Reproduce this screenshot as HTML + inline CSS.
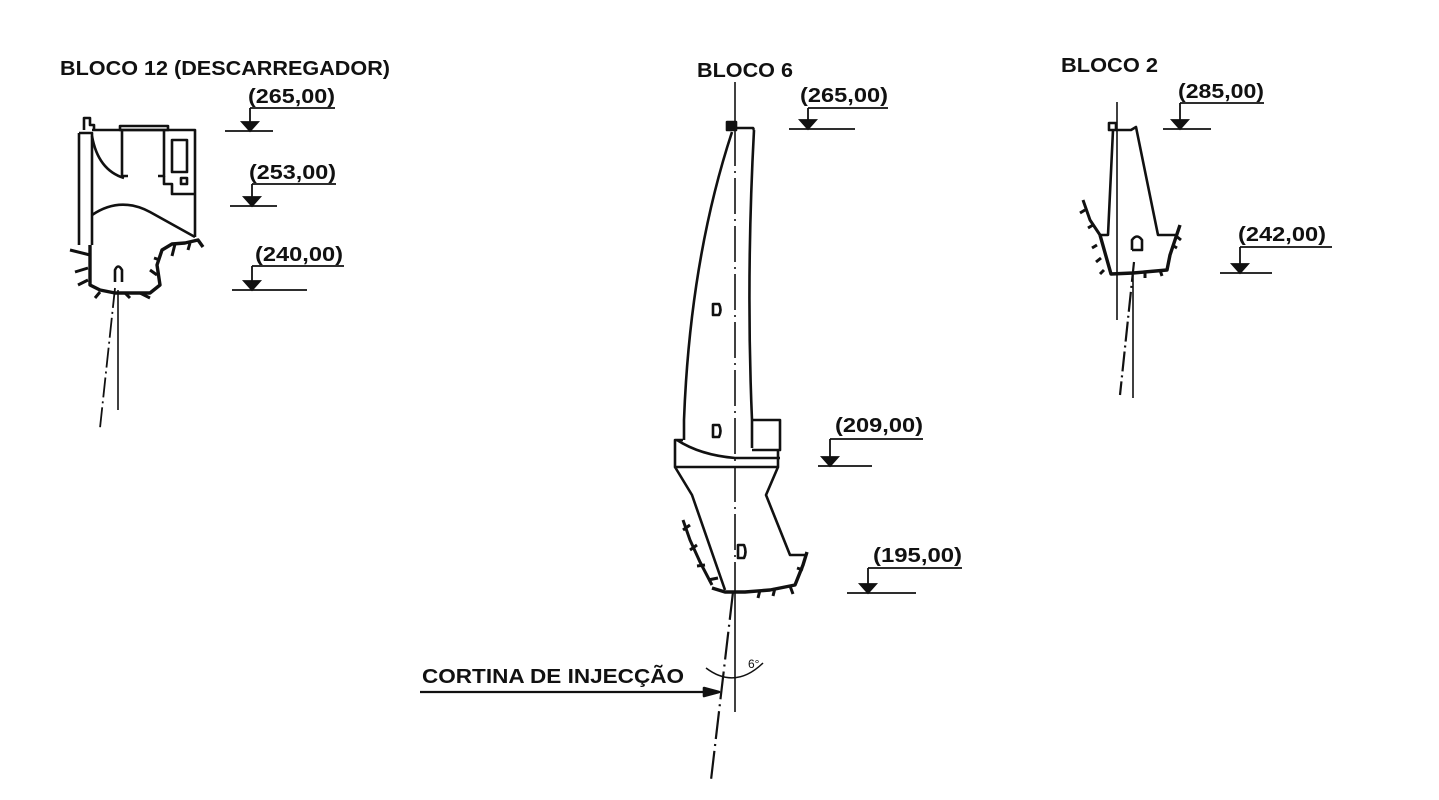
<!DOCTYPE html>
<html><head><meta charset="utf-8"><style>
html,body{margin:0;padding:0;background:#fff;}
svg{display:block}
text{font-family:"Liberation Sans",sans-serif;font-weight:bold;fill:#111}
</style></head><body>
<svg width="1439" height="800" viewBox="0 0 1439 800" xmlns="http://www.w3.org/2000/svg">
<text x="60" y="75" font-size="20" textLength="330" lengthAdjust="spacingAndGlyphs">BLOCO 12 (DESCARREGADOR)</text>
<text x="697" y="77" font-size="20" textLength="96" lengthAdjust="spacingAndGlyphs">BLOCO 6</text>
<text x="1061" y="72" font-size="20" textLength="97" lengthAdjust="spacingAndGlyphs">BLOCO 2</text>
<text x="422" y="683" font-size="20" textLength="262" lengthAdjust="spacingAndGlyphs">CORTINA DE INJECÇÃO</text>
<text x="748" y="668" font-size="12" style="font-weight:normal">6°</text>

<g stroke="#111" stroke-width="1.8" fill="none">
 <path d="M250 108H335M250 108V131M225 131H273"/>
 <path d="M242 122L258 122L250 131Z" fill="#111"/>
 <path d="M252 184H336M252 184V206M230 206H277"/>
 <path d="M244 197L260 197L252 206Z" fill="#111"/>
 <path d="M252 266H344M252 266V290M232 290H307"/>
 <path d="M244 281L260 281L252 290Z" fill="#111"/>
 <path d="M808 108H888M808 108V129M789 129H855"/>
 <path d="M800 120L816 120L808 129Z" fill="#111"/>
 <path d="M830 439H923M830 439V466M818 466H872"/>
 <path d="M822 457L838 457L830 466Z" fill="#111"/>
 <path d="M868 568H962M868 568V593M847 593H916"/>
 <path d="M860 584L876 584L868 593Z" fill="#111"/>
 <path d="M1180 103H1264M1180 103V129M1163 129H1211"/>
 <path d="M1172 120L1188 120L1180 129Z" fill="#111"/>
 <path d="M1240 247H1332M1240 247V273M1220 273H1272"/>
 <path d="M1232 264L1248 264L1240 273Z" fill="#111"/>
</g>
<g font-size="20">
<text x="248" y="103" textLength="87" lengthAdjust="spacingAndGlyphs">(265,00)</text>
<text x="249" y="179" textLength="87" lengthAdjust="spacingAndGlyphs">(253,00)</text>
<text x="255" y="261" textLength="88" lengthAdjust="spacingAndGlyphs">(240,00)</text>
<text x="800" y="102" textLength="88" lengthAdjust="spacingAndGlyphs">(265,00)</text>
<text x="835" y="432" textLength="88" lengthAdjust="spacingAndGlyphs">(209,00)</text>
<text x="873" y="562" textLength="89" lengthAdjust="spacingAndGlyphs">(195,00)</text>
<text x="1178" y="98" textLength="86" lengthAdjust="spacingAndGlyphs">(285,00)</text>
<text x="1238" y="241" textLength="88" lengthAdjust="spacingAndGlyphs">(242,00)</text>
</g>

<!-- LEFT BLOCK -->
<g fill="none" stroke="#111" stroke-width="2.6" stroke-linejoin="round">
 <path d="M79 133V245M79 133H92V245"/>
 <path d="M84 130V118H90V125H94V130"/>
 <path d="M92 130H195V237"/>
 <rect x="120" y="126" width="48" height="4" />
 <path d="M122 130V176H128M158 176H164V130"/>
 <path d="M164 176V184H172V194H195"/>
 <rect x="172" y="140" width="15" height="32"/>
 <rect x="181" y="178" width="6" height="6"/>
 <path d="M92 136Q98 170 124 178"/>
 <path d="M92 215Q120 196 150 212Q175 226 195 237"/>
 <path stroke-width="3.4" d="M90 245V285L100 290L115 293H150L160 285L157 265L162 250L172 244L185 243L198 240L203 247"/>
 <path stroke-width="3" d="M90 255L70 250M88 268L75 272M88 280L78 285M100 292L95 298M125 293L130 298M140 293L150 298M157 275L150 270M160 260L154 258M175 244L172 256M190 243L188 250"/>
 <path d="M115 282V270Q118 263 122 270V282"/>
 <path stroke-width="1.6" d="M118 290V410"/>
 <path stroke-width="1.8" stroke-dasharray="20 4 2 4" d="M115 288L100 428"/>
</g>

<!-- MIDDLE BLOCK -->
<g fill="none" stroke="#111" stroke-width="2.6" stroke-linejoin="round">
 <path stroke-width="1.6" d="M735 82V123"/>
 <path stroke-width="1.6" stroke-dasharray="36 5 2 5" d="M735 130V590"/>
 <rect x="727" y="122" width="9" height="8" fill="#111"/>
 <path d="M736 128H753L754 130"/>
 <path d="M732 132Q690 260 684 420V440"/>
 <path d="M754 130Q746 280 752 420V448"/>
 <path d="M752 420H780V450H752"/>
 <path d="M683 440H675V467H778V450"/>
 <path d="M677 440Q700 455 735 458H780"/>
 <path d="M675 467L692 495L725 590"/>
 <path d="M778 467L766 495L790 555H805"/>
 <path stroke-width="3.4" d="M712 588L725 592L745 592L770 590L795 585L803 565L807 552"/>
 <path stroke-width="3" d="M683 520L690 540L700 562L712 585M683 530L690 525M690 550L697 545M697 566L705 565M708 580L718 578M760 590L758 598M775 588L773 596M790 586L793 594M803 570L797 568"/>
 <path d="M713 315V304H719Q722 310 719 315Z"/>
 <path d="M713 437V425H719Q722 431 719 437Z"/>
 <path d="M738 558V545H744Q747 552 744 558Z"/>
 <path stroke-width="1.6" d="M735 590V712"/>
 <path stroke-width="2.2" stroke-dasharray="28 5 2 5" d="M733 592L711 780"/>
 <path stroke-width="1.5" d="M706 668Q735 690 763 663"/>
 <path stroke-width="2.2" d="M420 692H717"/>
 <path d="M704 688L719 692L704 696Z" fill="#111"/>
</g>

<!-- RIGHT BLOCK -->
<g fill="none" stroke="#111" stroke-width="2.6" stroke-linejoin="round">
 <path stroke-width="1.6" d="M1117 102V320"/>
 <rect x="1109" y="123" width="7" height="7"/>
 <path d="M1116 130H1131L1136 127L1158 235H1176"/>
 <path d="M1113 130L1108 235H1100"/>
 <path stroke-width="3.4" d="M1100 235L1111 274L1133 273L1167 270L1170 255L1176 237L1180 225"/>
 <path stroke-width="3" d="M1100 235L1090 220L1083 200M1085 210L1080 213M1093 225L1088 228M1097 245L1092 248M1101 258L1096 262M1104 270L1100 274M1145 272L1145 278M1160 270L1162 276M1172 245L1177 248M1176 236L1181 240"/>
 <path d="M1132 250V240Q1137 233 1142 240V250H1132"/>
 <path stroke-width="1.6" d="M1133 275V398"/>
 <path stroke-width="2.2" stroke-dasharray="20 4 2 4" d="M1134 262L1120 395"/>
</g>
</svg>
</body></html>
